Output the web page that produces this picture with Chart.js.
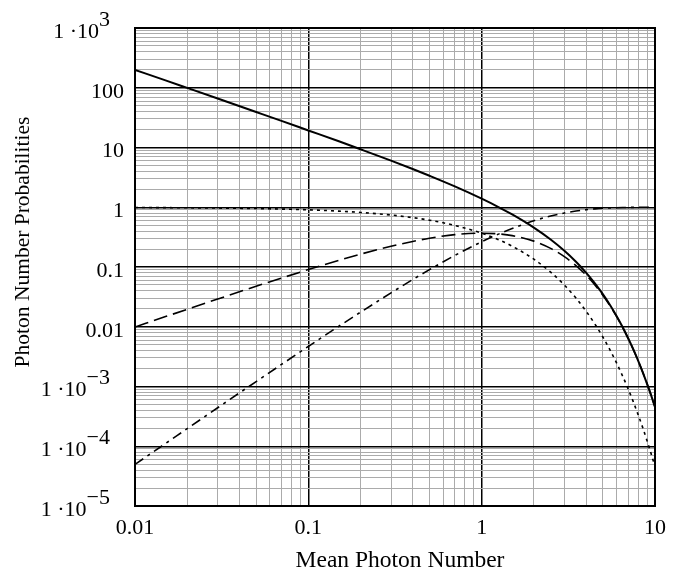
<!DOCTYPE html>
<html>
<head>
<meta charset="utf-8">
<script src="https://cdn.jsdelivr.net/npm/chart.js@4.4.0/dist/chart.umd.min.js"></script>
<style>
  html, body { margin: 0; padding: 0; background: #fff; }
  #wrap { width: 688px; height: 572px; }
</style>
</head>
<body>
<div id="wrap"><canvas id="chart"></canvas></div>
<script>
// mean photon number (x) and the three probability curves
const meanPhotons = [0.01, 0.015, 0.02, 0.03, 0.05, 0.07, 0.1, 0.15, 0.2, 0.3, 0.4, 0.5, 0.7, 1, 1.25, 1.5, 2, 2.5, 3, 3.5, 4, 4.5, 5, 5.5, 6, 6.5, 7, 7.5, 8, 8.5, 9, 9.5, 10];
const ratioOneToMulti = [199, 133, 99.5, 66.0, 39.3, 27.9, 19.3, 12.7, 9.34, 6.02, 4.36, 3.36, 2.23, 1.39, 1.008, 0.757, 0.456, 0.288, 0.1865, 0.1223, 0.0806, 0.0532, 0.0351, 0.0231, 0.01514, 0.00988, 0.00643, 0.00417, 0.00269, 0.00173, 0.00111, 0.000712, 0.000454];
const probZero = [0.990, 0.985, 0.980, 0.970, 0.951, 0.932, 0.905, 0.861, 0.819, 0.741, 0.670, 0.607, 0.497, 0.368, 0.287, 0.223, 0.135, 0.0821, 0.0498, 0.0302, 0.0183, 0.0111, 0.00674, 0.00409, 0.00248, 0.00150, 0.000912, 0.000553, 0.000335, 0.000204, 0.000123, 0.0000749, 0.0000454];
const probOne = [0.0099, 0.01478, 0.0196, 0.0291, 0.0476, 0.0653, 0.0905, 0.129, 0.164, 0.222, 0.268, 0.303, 0.348, 0.368, 0.358, 0.335, 0.271, 0.205, 0.149, 0.1057, 0.0733, 0.0500, 0.0337, 0.0225, 0.01487, 0.00977, 0.00638, 0.00415, 0.00268, 0.00173, 0.00111, 0.000711, 0.000454];
const probMulti = [0.0000497, 0.000111, 0.000197, 0.000441, 0.00121, 0.00234, 0.00468, 0.0102, 0.0175, 0.0369, 0.0616, 0.0902, 0.156, 0.264, 0.355, 0.442, 0.594, 0.713, 0.801, 0.864, 0.908, 0.939, 0.960, 0.973, 0.983, 0.989, 0.993, 0.995, 0.997, 0.998, 0.9988, 0.9992, 0.9995];

// axis ticks
const xDecades = [0.01, 0.1, 1, 10];
const xTickLabels = ['0.01', '0.1', '1', '10'];
const yDecades = [1e-5, 1e-4, 1e-3, 0.01, 0.1, 1, 10, 100, 1000];
const yLabelBase = ['1 \u00b710', '1 \u00b710', '1 \u00b710', '0.01', '0.1', '1', '10', '100', '1 \u00b710'];
const yLabelExp = ['\u22125', '\u22124', '\u22123', '', '', '', '', '', '3'];

const xTitle = 'Mean Photon Number';
const yTitle = 'Photon Number Probabilities';

const FONT = '"Liberation Serif", "Times New Roman", serif';

function withMinors(decades){
  const out = [];
  for (let i = 0; i < decades.length - 1; i++){
    for (let k = 1; k <= 9; k++) out.push(+(decades[i] * k).toPrecision(6));
  }
  out.push(decades[decades.length - 1]);
  return out;
}
const isDecade = v => Math.abs(Math.log10(v) - Math.round(Math.log10(v))) < 1e-9;
const pts = ys => meanPhotons.map((x, i) => ({ x, y: ys[i] }));

// y labels with raised exponents, axis titles, frame around the plot
const overlay = {
  id: 'overlay',
  afterDraw(chart){
    const { ctx, chartArea: a, scales: { y } } = chart;
    ctx.save();
    ctx.strokeStyle = '#000';
    ctx.lineWidth = 2;
    ctx.strokeRect(a.left, a.top, a.right - a.left, a.bottom - a.top);

    ctx.fillStyle = '#000';
    ctx.font = '22px ' + FONT;
    ctx.textBaseline = 'middle';
    ctx.textAlign = 'right';
    yDecades.forEach((v, i) => {
      const py = y.getPixelForValue(v);
      if (yLabelExp[i]){
        const ew = ctx.measureText(yLabelExp[i]).width;
        ctx.fillText(yLabelExp[i], a.left - 25, py - 8);
        ctx.fillText(yLabelBase[i], a.left - 25 - ew, py + 4);
      } else {
        ctx.fillText(yLabelBase[i], a.left - 11, py + 4);
      }
    });

    ctx.textAlign = 'center';
    ctx.font = '23.5px ' + FONT;
    ctx.fillText(xTitle, 400, 561);
    ctx.translate(23, 242);
    ctx.rotate(-Math.PI / 2);
    ctx.font = '21.5px ' + FONT;
    ctx.fillText(yTitle, 0, 0);
    ctx.restore();
  }
};

const gridColor = c => isDecade(c.tick.value) ? '#000' : '#ababab';
const gridWidth = c => isDecade(c.tick.value) ? 1.5 : 1;

new Chart(document.getElementById('chart'), {
  type: 'line',
  data: {
    datasets: [
      { data: pts(ratioOneToMulti), borderColor: '#000', borderWidth: 2 },
      { data: pts(probZero), borderColor: '#000', borderWidth: 1.6, borderDash: [3, 4] },
      { data: pts(probOne), borderColor: '#000', borderWidth: 1.6, borderDash: [14, 6] },
      { data: pts(probMulti), borderColor: '#000', borderWidth: 1.6, borderDash: [10, 5, 3, 5] }
    ]
  },
  options: {
    responsive: true,
    maintainAspectRatio: false,
    animation: false,
    layout: { padding: { top: 28, right: 33, bottom: 0, left: 0 } },
    elements: { point: { radius: 0 }, line: { cubicInterpolationMode: 'monotone', fill: false } },
    plugins: { legend: { display: false }, tooltip: { enabled: false } },
    scales: {
      x: {
        type: 'logarithmic',
        min: 0.01, max: 10,
        afterBuildTicks: s => { s.ticks = withMinors(xDecades).map(value => ({ value })); },
        afterFit: s => { s.height = 66; },
        grid: { color: gridColor, lineWidth: gridWidth, drawTicks: false },
        border: { display: false },
        ticks: {
          autoSkip: false, maxRotation: 0, padding: 9, color: '#000',
          font: { family: FONT, size: 22 },
          callback: v => { const i = xDecades.findIndex(d => Math.abs(d - v) / d < 1e-6); return i >= 0 ? xTickLabels[i] : ''; }
        }
      },
      y: {
        type: 'logarithmic',
        min: 1e-5, max: 1000,
        afterBuildTicks: s => { s.ticks = withMinors(yDecades).map(value => ({ value })); },
        afterFit: s => { s.width = 135; },
        grid: { color: gridColor, lineWidth: gridWidth, drawTicks: false },
        border: { display: false },
        ticks: { autoSkip: false, callback: () => '' }
      }
    }
  },
  plugins: [overlay]
});
</script>
</body>
</html>
